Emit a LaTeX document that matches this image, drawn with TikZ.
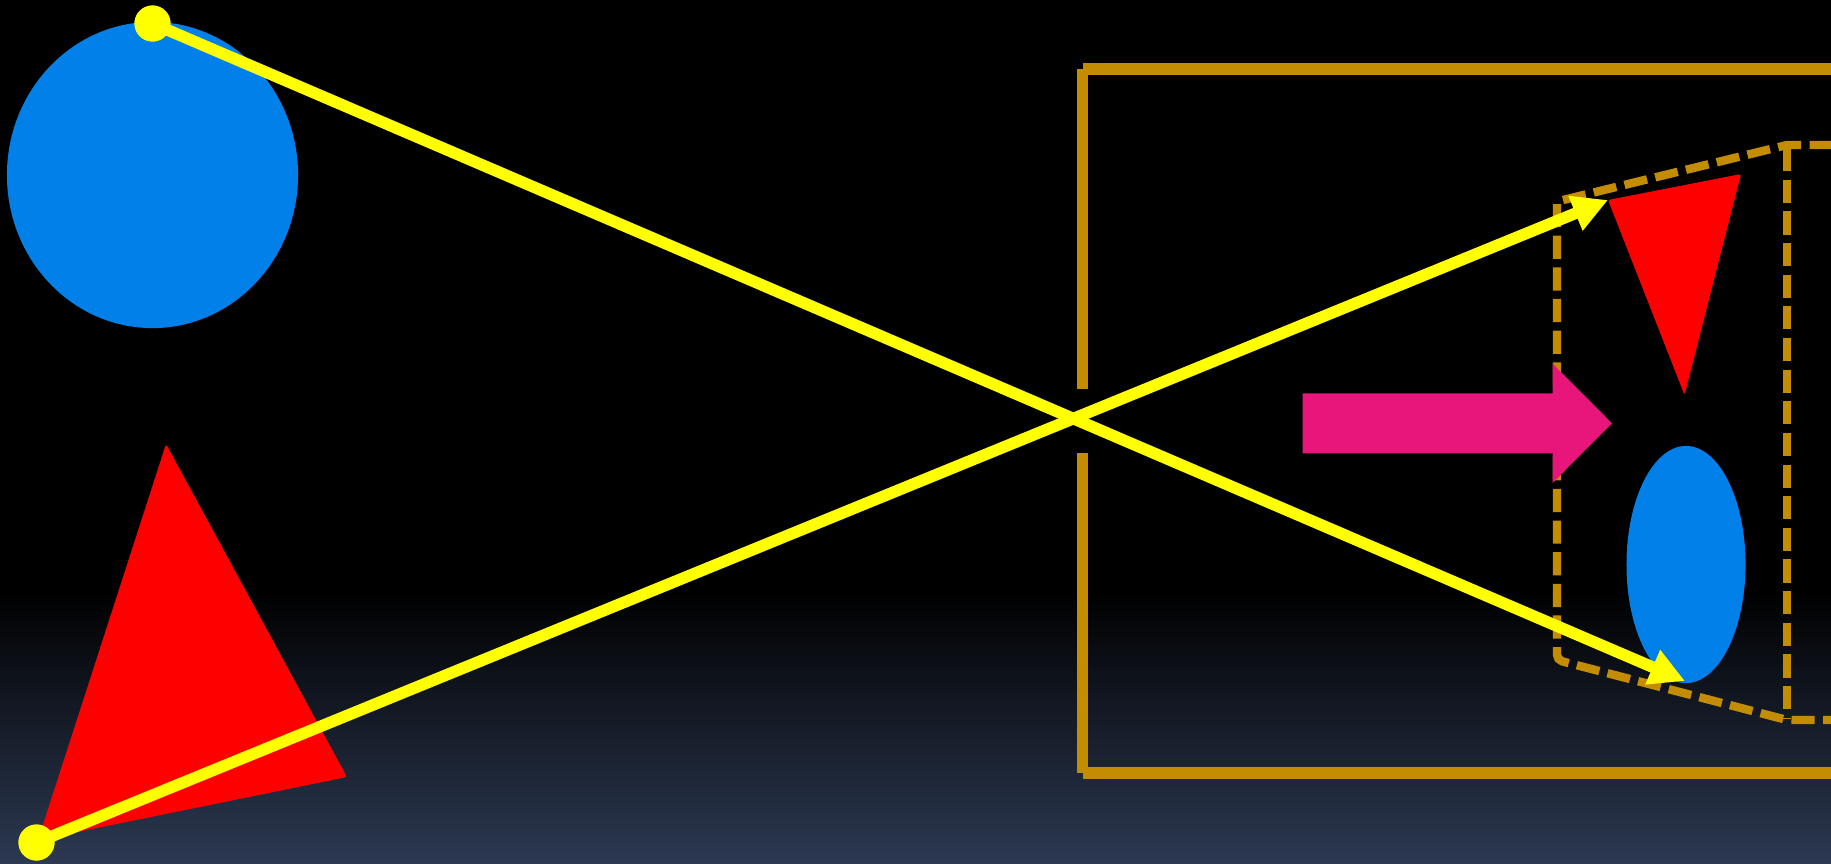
\documentclass[tikz,border=0pt]{standalone}
\usetikzlibrary{arrows.meta,shapes.geometric}
\definecolor{bgbot}{RGB}{44,57,82}
\definecolor{shapeblue}{RGB}{0,128,232}
\definecolor{brownline}{RGB}{196,140,0}
\definecolor{arrowpink}{RGB}{232,22,122}
\definecolor{rayyellow}{RGB}{255,255,0}
\tikzset{
  solidbrown/.style={draw=brownline,line width=3.3pt,line cap=butt},
  dashbrown/.style={draw=brownline,line width=2.4pt,dash pattern=on 6.6pt off 2.4pt,line cap=butt},
  ray/.style={draw=rayyellow,line width=3.3pt,-{Triangle[length=10pt,width=10pt]}},
  dotnode/.style={circle,fill=rayyellow,inner sep=0pt,minimum size=0.36cm},
  blueshape/.style={ellipse,fill=shapeblue,inner sep=0pt},
}
\begin{document}
\begin{tikzpicture}[x=0.01cm,y=-0.01cm]
% background
\useasboundingbox (0,0) rectangle (1831,863);
\fill[black] (0,0) rectangle (1831,863);
\shade[top color=black,bottom color=bgbot] (0,590) rectangle (1831,863);
% left objects
\node[blueshape,minimum width=2.91cm,minimum height=3.06cm] (circ) at (152.5,175) {};
\fill[red,rounded corners=0.5pt] (166,444) -- (347,777) -- (38,840) -- cycle;
% solid box
\draw[solidbrown] (1083,69) -- (1831,69);
\draw[solidbrown] (1082.5,69) -- (1082.5,389);
\draw[solidbrown] (1082.5,453) -- (1082.5,773);
\draw[solidbrown] (1082.5,773) -- (1831,773);
% dashed box
\draw[dashbrown] (1563,200) -- (1787,145) -- (1831,145);
\draw[dashbrown] (1787,148) -- (1787,718);
\draw[dashbrown,rounded corners=1.5pt] (1557,204) -- (1557,660) -- (1787,720) -- (1831,720);
% pink arrow
\fill[arrowpink] (1302.5,393.3) -- (1552.5,393.3) -- (1552.5,363.5) -- (1612,423.3)
  -- (1552.5,483) -- (1552.5,453.3) -- (1302.5,453.3) -- cycle;
% right objects
\fill[red,rounded corners=0.5pt] (1608,200) -- (1741,174) -- (1684.5,395) -- cycle;
\node[blueshape,minimum width=1.19cm,minimum height=2.37cm] (ell) at (1686,564.5) {};
% rays
\node[dotnode] (dtop) at (152.5,23.5) {};
\node[dotnode] (dbot) at (36.5,842.5) {};
\coordinate (tipA) at (1685,681);
\coordinate (tipB) at (1608,200);
\draw[ray] (dtop.center) -- (tipA);
\draw[ray] (dbot.center) -- (tipB);
\node[dotnode] at (dtop) {};
\node[dotnode] at (dbot) {};
\end{tikzpicture}
\end{document}
